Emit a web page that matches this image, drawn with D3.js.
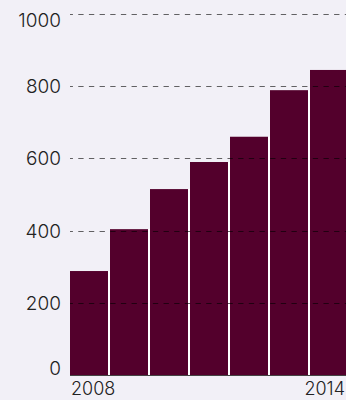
<!DOCTYPE html>
<html><head><meta charset="utf-8">
<script src="https://cdn.jsdelivr.net/npm/d3@7"></script>
<style>
html,body{margin:0;padding:0;background:#f2f0f7;}
svg{display:block;}
text{font-family:Inter, "Noto Sans", sans-serif;fill:#222;font-weight:300;}
</style></head>
<body>
<svg id="c" width="346" height="400"></svg>
<script>
const years = [2008, 2009, 2010, 2011, 2012, 2013, 2014];
const values = [288, 404, 515, 590, 660, 789, 845];
const yTicks = [0, 200, 400, 600, 800, 1000];
const xTickLabels = ["2008", "2014"];

const svg = d3.select("#c");
const W = 346, H = 400;
const x = d3.scaleBand().domain(years).range([69, 349]).padding(0);
const y = d3.scaleLinear().domain([0, 1000]).range([375, 14]);

svg.append("rect").attr("width", W).attr("height", H).attr("fill", "#f2f0f7");

// bars
svg.append("g").selectAll("rect").data(years).join("rect")
  .attr("x", d => x(d) + 1)
  .attr("width", x.bandwidth() - 2)
  .attr("y", (d, i) => y(values[i]))
  .attr("height", (d, i) => y(0) - y(values[i]))
  .attr("fill", "#53002c");

// white separators between adjacent bars
svg.append("g").selectAll("rect").data(years.slice(1)).join("rect")
  .attr("x", d => x(d) - 1)
  .attr("width", 2)
  .attr("y", (d, i) => y(Math.min(values[i], values[i + 1])))
  .attr("height", (d, i) => y(0) - y(Math.min(values[i], values[i + 1])))
  .attr("fill", "#ffffff");

// gridlines (on top)
svg.append("g").selectAll("line").data(yTicks.filter(t => t > 0)).join("line")
  .attr("x1", 70).attr("x2", W)
  .attr("y1", d => Math.round(y(d)) + 0.5).attr("y2", d => Math.round(y(d)) + 0.5)
  .attr("stroke", "#000").attr("stroke-opacity", 0.6)
  .attr("stroke-width", 1.2)
  .attr("stroke-dasharray", "5.33,5.33")
  .attr("stroke-dashoffset", 2.4);

// baseline
svg.append("line").attr("x1", 70).attr("x2", W)
  .attr("y1", y(0) + 0.5).attr("y2", y(0) + 0.5)
  .attr("stroke", "#444").attr("stroke-width", 1.2);

// y labels
svg.append("g").selectAll("text").data(yTicks).join("text")
  .attr("x", 61)
  .attr("y", d => Math.min(368, Math.max(20, y(d))) + 7)
  .attr("text-anchor", "end")
  .attr("font-size", 19)
  .text(d => d);

// x labels
svg.append("text").attr("x", x(+xTickLabels[0]) + 2).attr("y", 395)
  .attr("text-anchor", "start").attr("font-size", 18).text(xTickLabels[0]);
svg.append("text").attr("x", 345).attr("y", 395)
  .attr("text-anchor", "end").attr("font-size", 18).text(xTickLabels[1]);
</script>
</body></html>
